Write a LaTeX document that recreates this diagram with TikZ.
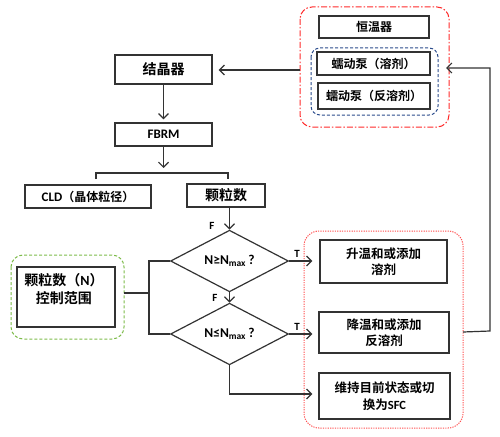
\documentclass[tikz,border=0pt]{standalone}
\usepackage{fontspec}
\setmainfont{Noto Sans CJK SC}[BoldFont={* Bold}]
\newfontfamily\lat{Carlito}
\usetikzlibrary{shapes.geometric,arrows.meta}
\definecolor{lineg}{HTML}{333333}
\definecolor{redd}{HTML}{FF2A2A}
\definecolor{blued}{HTML}{2B4C8C}
\definecolor{greend}{HTML}{7DBB4A}
\definecolor{redo}{HTML}{FF5050}
\begin{document}
\begin{tikzpicture}[x=1pt,y=-1pt,
  box/.style={draw=lineg,line width=1.2pt,inner sep=0pt,align=center,font=\bfseries\fontsize{12}{15}\selectfont},
  dia/.style={draw=lineg,line width=1.2pt,shape=diamond,inner sep=0pt,font=\lat\bfseries\fontsize{13.5}{14}\selectfont},
  conn/.style={draw=lineg,line width=1.2pt},
  arr/.style={conn,-{Straight Barb[length=5pt,width=10pt]}},
  lbl/.style={font=\lat\bfseries\fontsize{11}{12}\selectfont,inner sep=0pt}]
\useasboundingbox (0,0) rectangle (500,436);
% group frames
\draw[redd,line width=1pt,rounded corners=12pt,dash pattern=on 6pt off 2pt on 1.5pt off 2pt] (300,7) rectangle (449,127);
\coordinate (rdE) at (449,68);
\coordinate (rdW) at (300,70);
\draw[blued,line width=1pt,rounded corners=9pt,dash pattern=on 3pt off 2pt] (311,48) rectangle (438,115);
\draw[greend,line width=1pt,rounded corners=12pt,dash pattern=on 3pt off 2pt] (11,255) rectangle (124,339);
\coordinate (grE) at (124,293);
\draw[redo,line width=1pt,rounded corners=15pt,dash pattern=on 1.2pt off 1.2pt] (304,231) rectangle (463,428);
\coordinate (roE) at (463,332);
% boxes
\node[box,minimum width=110pt,minimum height=22pt] (heng) at (374,27) {恒温器};
\node[box,minimum width=113pt,minimum height=23pt] (rong) at (373.5,63.5) {蠕动泵（溶剂）};
\node[box,minimum width=112pt,minimum height=26pt] (fan) at (374,96) {蠕动泵（反溶剂）};
\node[box,minimum width=97pt,minimum height=29pt,font=\bfseries\fontsize{14}{16}\selectfont] (jie) at (163.5,69.5) {结晶器};
\node[box,minimum width=97pt,minimum height=23pt,font=\lat\bfseries\fontsize{13}{15}\selectfont] (fbrm) at (163.5,134.5) {FBRM};
\node[box,minimum width=126pt,minimum height=23pt] (cld) at (88,196.5) {{\lat\fontsize{13}{15}\selectfont CLD}（晶体粒径）};
\node[box,minimum width=78pt,minimum height=23pt,font=\bfseries\fontsize{14}{16}\selectfont] (kl) at (226,195.5) {颗粒数};
\node[dia,minimum width=118pt,minimum height=43pt] (d1) at (229.5,261) {N≥N\textsubscript{max}\,?};
\node[dia,minimum width=118pt,minimum height=49pt] (d2) at (229.5,334) {N≤N\textsubscript{max}\,?};
\node[box,minimum width=98pt,minimum height=60pt] (ctrl) at (66,297) {};
\node[font=\bfseries\fontsize{14}{18}\selectfont,align=center,inner sep=0pt] (ctrlt) at (64,289) {颗粒数（{\lat N}）\\控制范围};
\node[box,minimum width=127pt,minimum height=43pt,font=\bfseries\fontsize{12.5}{16.5}\selectfont] (up) at (383.5,261.5) {升温和或添加\\溶剂};
\node[box,minimum width=130pt,minimum height=41pt,font=\bfseries\fontsize{12.5}{16.5}\selectfont] (down) at (384,332.5) {降温和或添加\\反溶剂};
\node[box,minimum width=131pt,minimum height=46pt,font=\bfseries\fontsize{12.5}{16.5}\selectfont] (keep) at (384.5,396) {维持目前状态或切\\换为{\lat SFC}};
% connectors
\draw[arr,shorten >=6pt] (rdW) -- (jie.east |- rdW);
\draw[arr,shorten >=3pt] (jie.south) -- (fbrm.north);
\coordinate (brL) at (96,173);
\coordinate (brR) at (228,173);
\draw[arr] (fbrm.south) -- (163.5,168);
\draw[conn] (96,179) -- (brL) -- (brR) -- (228,179);
\draw[arr] (kl.south -| d1.north) -- (d1.north);
\node[lbl] (f1) at (212,226) {F};
\draw[arr] (d1.south) -- (d2.north);
\node[lbl] (f2) at (215,298) {F};
\draw[arr,shorten >=7pt] (d1.east) -- (up.west |- d1.east);
\node[lbl] (t1) at (297,254) {T};
\draw[arr,shorten >=6pt] (d2.east) -- (down.west |- d2.east);
\node[lbl] (t2) at (297,327) {T};
\draw[arr,shorten >=6pt] (d2.south) -- (229.5,394) -- (keep.west |- 0,394);
\coordinate (jx) at (149,293);
\draw[conn] (grE) -- (jx);
\draw[conn] (d1.west) -- (149,261) -- (149,334) -- (d2.west);
\draw[arr,shorten >=-3pt] (roE) -- (490,331) -- (490,68) -- (rdE);
\end{tikzpicture}
\end{document}
